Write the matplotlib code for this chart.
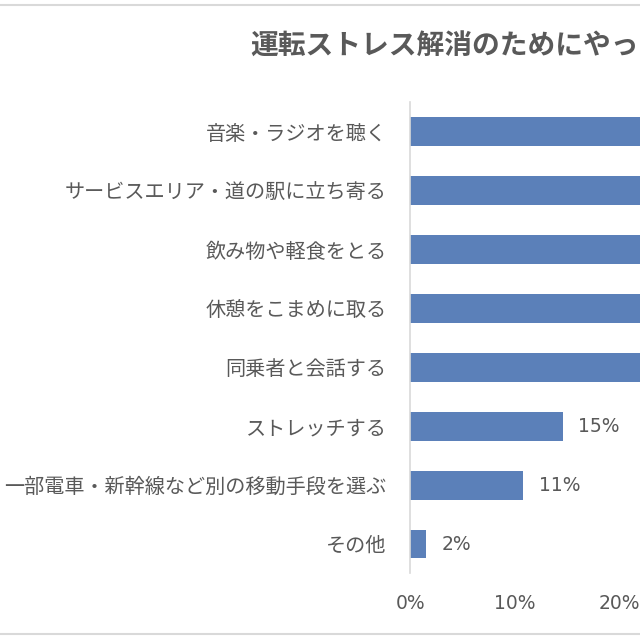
import matplotlib.pyplot as plt
from matplotlib.lines import Line2D

plt.rcParams['font.family'] = ['Noto Sans CJK JP', 'DejaVu Sans']

title = "運転ストレス解消のためにやっていること"
categories = [
    "音楽・ラジオを聴く",
    "サービスエリア・道の駅に立ち寄る",
    "飲み物や軽食をとる",
    "休憩をこまめに取る",
    "同乗者と会話する",
    "ストレッチする",
    "一部電車・新幹線など別の移動手段を選ぶ",
    "その他",
]
# top five bars run off the right edge of the picture; values estimated
values = [47.0, 41.0, 35.0, 32.0, 25.0, 14.6, 10.8, 1.5]
value_labels = ["47%", "41%", "35%", "32%", "25%", "15%", "11%", "2%"]
xticks = [0, 10, 20, 30, 40, 50]

text_color = "#595959"
bar_color = "#5b80b9"
grid_color = "#d9d9d9"
num_font = ["DejaVu Sans"]

fig = plt.figure(figsize=(6.4, 6.4), dpi=100)
# axes deliberately wider than the figure: the reference is cropped on the right
ax = fig.add_axes([0.641, 0.104, 0.816, 0.736])

y = list(range(len(categories)))[::-1]
ax.barh(y, values, height=0.49, color=bar_color)
for yi, v, lab in zip(y, values, value_labels):
    ax.text(v + 1.5, yi, lab, va="center", ha="left", fontsize=13.5,
            color=text_color, family=num_font)

ax.set_ylim(-0.5, len(categories) - 0.5)
ax.set_xlim(0, 50)
ax.set_yticks(y)
ax.set_yticklabels(categories, fontsize=14.5, color=text_color)
ax.set_xticks(xticks)
ax.set_xticklabels([f"{t}%" for t in xticks], fontsize=13.5, color=text_color,
                   family=num_font)
ax.tick_params(axis="both", length=0)
ax.tick_params(axis="y", pad=17)
ax.tick_params(axis="x", pad=15)

for side in ["top", "right", "bottom"]:
    ax.spines[side].set_visible(False)
ax.spines["left"].set_color(grid_color)
ax.spines["left"].set_linewidth(1.2)

fig.text(250 / 640, 1 - 47 / 640, title, fontsize=20, fontweight="bold",
         color=text_color, ha="left", va="center")

# chart frame lines
fig.add_artist(Line2D([0, 1], [1 - 5 / 640, 1 - 5 / 640], color=grid_color, lw=1.5))
fig.add_artist(Line2D([0, 1], [1 - 634 / 640, 1 - 634 / 640], color=grid_color, lw=1.5))

fig.savefig("out.png", dpi=100, facecolor="white")
